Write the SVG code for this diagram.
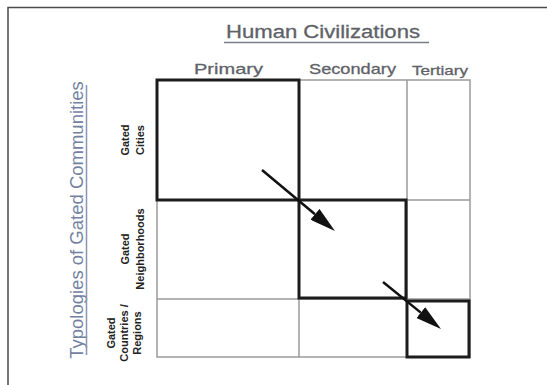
<svg xmlns="http://www.w3.org/2000/svg" width="547" height="385" viewBox="0 0 547 385">
<style>
  .frame{fill:none;stroke:#4a4a4a;stroke-width:1.5}
  .thin{fill:none;stroke:#9a9a9a;stroke-width:1.5}
  .bold{fill:none;stroke:#1c1c1c;stroke-width:3}
  .head{font-family:"Liberation Sans",Arial,sans-serif;fill:#5e6268;stroke:#5e6268;stroke-width:0.3}
  .vt{font-family:"Liberation Sans",Arial,sans-serif;fill:#7482a2;font-size:18.5px}
  .lbl{font-family:"Liberation Sans",Arial,sans-serif;font-weight:bold;font-size:11px;fill:#222;text-anchor:middle}
  .arrow{stroke:#111;stroke-width:2.5;fill:none}
</style>
<defs>
  <marker id="ah" markerUnits="userSpaceOnUse" markerWidth="26" markerHeight="14" refX="0" refY="7" orient="auto" viewBox="0 0 26 14">
    <path d="M0,0 L26,7 L0,14 z" fill="#111"/>
  </marker>
</defs>
<rect x="0" y="0" width="547" height="385" fill="#ffffff"/>
<path class="frame" d="M8,385 L8,7.5 L547,7.5"/>

<g id="title-top">
  <text class="head" x="226" y="38" font-size="18" textLength="194" lengthAdjust="spacingAndGlyphs">Human Civilizations</text>
  <line x1="224" y1="42.5" x2="429" y2="42.5" stroke="#7a7e86" stroke-width="1.5"/>
</g>
<g id="title-side">
  <text class="vt" transform="translate(83,220) rotate(-90)" text-anchor="middle">Typologies of Gated Communities</text>
  <line x1="86.5" y1="85" x2="86.5" y2="355" stroke="#8a95b0" stroke-width="1.5"/>
</g>

<g id="col-primary"><text class="head" x="194" y="74" font-size="15" textLength="69" lengthAdjust="spacingAndGlyphs">Primary</text></g>
<g id="col-secondary"><text class="head" x="309" y="74" font-size="15" textLength="87" lengthAdjust="spacingAndGlyphs">Secondary</text></g>
<g id="col-tertiary"><text class="head" x="412" y="75" font-size="13.5" textLength="56" lengthAdjust="spacingAndGlyphs">Tertiary</text></g>

<g id="row-cities">
  <text class="lbl" transform="translate(129,140) rotate(-90)">Gated</text>
  <text class="lbl" transform="translate(144,140) rotate(-90)">Cities</text>
</g>
<g id="row-neighborhoods">
  <text class="lbl" transform="translate(129,249) rotate(-90)">Gated</text>
  <text class="lbl" transform="translate(144,249) rotate(-90)">Neighborhoods</text>
</g>
<g id="row-countries">
  <text class="lbl" transform="translate(115,333) rotate(-90)">Gated</text>
  <text class="lbl" transform="translate(128,333) rotate(-90)">Countries /</text>
  <text class="lbl" transform="translate(141,333) rotate(-90)">Regions</text>
</g>

<g id="grid">
  <rect class="thin" x="157" y="80" width="313" height="277"/>
  <line class="thin" x1="299" y1="80" x2="299" y2="357"/>
  <line class="thin" x1="407" y1="80" x2="407" y2="357"/>
  <line class="thin" x1="157" y1="200" x2="470" y2="200"/>
  <line class="thin" x1="157" y1="299" x2="470" y2="299"/>
</g>
<g id="box-primary-cities"><rect class="bold" x="157" y="80" width="142" height="120"/></g>
<g id="box-secondary-neighborhoods"><rect class="bold" x="299" y="200" width="107" height="98"/></g>
<g id="box-tertiary-countries"><rect class="bold" x="407" y="301" width="62" height="56"/></g>

<g id="connectors">
  <line class="arrow" x1="262" y1="170" x2="315" y2="214.3" marker-end="url(#ah)"/>
  <line class="arrow" x1="383" y1="282" x2="420.8" y2="312.6" marker-end="url(#ah)"/>
</g>
</svg>
